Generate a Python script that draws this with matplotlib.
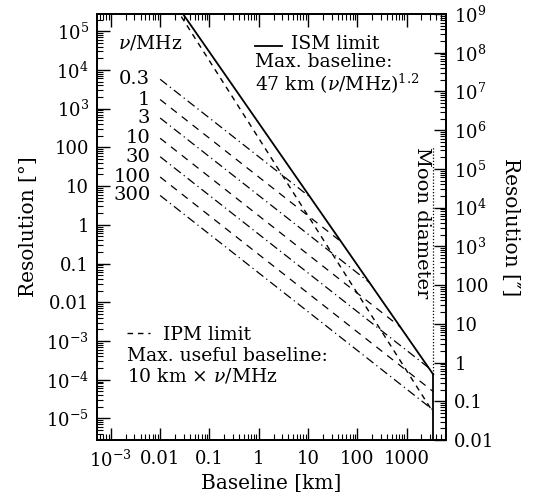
import numpy as np
import matplotlib
matplotlib.use('Agg')
import matplotlib.pyplot as plt
from matplotlib.ticker import FixedLocator, FixedFormatter, LogLocator, NullFormatter

plt.rcParams['font.family'] = 'DejaVu Serif'
plt.rcParams['mathtext.fontset'] = 'dejavuserif'

# observing frequencies [MHz] and physical limits
freqs = [0.3, 1, 3, 10, 30, 100, 300]
freq_labels = ['0.3', '1', '3', '10', '30', '100', '300']
b_min = 0.01            # shortest baseline drawn [km]
moon_diameter = 3474.0  # [km]
ism_coeff = 47.0        # ISM max. baseline: 47 km (nu/MHz)^1.2
ism_index = 1.2
ipm_coeff = 10.0        # IPM max. useful baseline: 10 km x nu/MHz
c_km = 299792.458e-6    # speed of light [km MHz]

x_ticks = [1e-3, 1e-2, 1e-1, 1, 10, 100, 1000]
x_ticklabels = [r'$10^{-3}$', '0.01', '0.1', '1', '10', '100', '1000']
y_ticks = [1e5, 1e4, 1e3, 100, 10, 1, 0.1, 0.01, 1e-3, 1e-4, 1e-5]
y_ticklabels = [r'$10^{5}$', r'$10^{4}$', r'$10^{3}$', '100', '10', '1', '0.1', '0.01',
                r'$10^{-3}$', r'$10^{-4}$', r'$10^{-5}$']
y2_ticks = [1e9, 1e8, 1e7, 1e6, 1e5, 1e4, 1e3, 100, 10, 1, 0.1, 0.01]
y2_ticklabels = [r'$10^{9}$', r'$10^{8}$', r'$10^{7}$', r'$10^{6}$', r'$10^{5}$', r'$10^{4}$',
                 r'$10^{3}$', '100', '10', '1', '0.1', '0.01']


def resolution_deg(nu, b):
    return np.degrees(c_km / nu / b)


fig = plt.figure(figsize=(5.39, 4.96), dpi=100)
ax = fig.add_axes([0.1805, 0.1129, 0.647, 0.8589])
ax.set_xscale('log')
ax.set_yscale('log')
ax.set_xlim(10**-3.275, 10**3.80)
ax.set_ylim(1e-2 / 3600, 1e9 / 3600)

# lines of constant frequency, up to the ISM limit or the Moon
for i, nu in enumerate(freqs):
    b_end = min(ism_coeff * nu**ism_index, moon_diameter)
    b = np.array([b_min, b_end])
    ls = (0, (7, 3, 1, 3)) if i % 2 == 0 else (0, (6, 5))
    ax.plot(b, resolution_deg(nu, b), color='k', lw=0.9, ls=ls)
    ax.text(b_min / 10**0.2, resolution_deg(nu, b_min), freq_labels[i],
            ha='right', va='center', fontsize=14)

# ISM limit
b = np.logspace(-3, np.log10(moon_diameter), 200)
nu_ism = (b / ism_coeff)**(1 / ism_index)
ism_res = resolution_deg(nu_ism, b)
ax.plot(b, ism_res, color='k', lw=1.3)

# IPM limit
nu_ipm = b / ipm_coeff
ax.plot(b, resolution_deg(nu_ipm, b), color='k', lw=1.0, ls=(0, (4, 3.5)))

# Moon diameter
ax.plot([moon_diameter, moon_diameter], [1e-8, ism_res[-1]], color='k', lw=1.3)
ax.plot([moon_diameter, moon_diameter], [ism_res[-1], 100], color='k', lw=0.9, ls=(0, (1, 1.5)))
ax.text(2100, 100, 'Moon diameter', rotation=270, ha='center', va='top', fontsize=14)

# annotations
kw = dict(transform=ax.transAxes, ha='left', fontsize=13.5)
ax.text(0.059, 0.932, r'$\nu$/MHz', va='center', **kw)
ax.plot([0.452, 0.530], [0.926, 0.926], transform=ax.transAxes, color='k', lw=1.3)
ax.text(0.452, 0.820, '      ISM limit\nMax. baseline:\n' + r'47 km ($\nu$/MHz)$^{1.2}$',
        va='baseline', linespacing=1.02, **kw)

ax.plot([0.085, 0.151], [0.251, 0.251], transform=ax.transAxes, color='k', lw=1.0, ls=(0, (4, 3.5)))
ax.text(0.188, 0.235, 'IPM limit', va='baseline', **kw)
ax.text(0.085, 0.137, 'Max. useful baseline:\n' + r'10 km $\times$ $\nu$/MHz',
        va='baseline', linespacing=1.08, **kw)

# axes and ticks
ax.xaxis.set_major_locator(FixedLocator(x_ticks))
ax.xaxis.set_major_formatter(FixedFormatter(x_ticklabels))
ax.xaxis.set_minor_locator(LogLocator(base=10, subs=np.arange(2, 10), numticks=100))
ax.xaxis.set_minor_formatter(NullFormatter())
ax.yaxis.set_major_locator(FixedLocator(y_ticks))
ax.yaxis.set_major_formatter(FixedFormatter(y_ticklabels))
ax.yaxis.set_minor_locator(LogLocator(base=10, subs=np.arange(2, 10), numticks=100))
ax.yaxis.set_minor_formatter(NullFormatter())
ax.tick_params(axis='x', which='both', direction='in', top=True, labelsize=13, pad=7)
ax.tick_params(axis='y', which='both', direction='in', right=False, labelsize=13, pad=6)
ax.tick_params(which='major', length=9, width=1)
ax.tick_params(which='minor', length=4.5, width=0.8)
ax.set_xlabel('Baseline [km]', fontsize=14.5, labelpad=2)
ax.set_ylabel('Resolution [°]', fontsize=14.5, labelpad=6)

ax2 = ax.twinx()
ax2.set_yscale('log')
ax2.set_ylim(1e-2, 1e9)
ax2.yaxis.set_major_locator(FixedLocator(y2_ticks))
ax2.yaxis.set_major_formatter(FixedFormatter(y2_ticklabels))
ax2.yaxis.set_minor_locator(LogLocator(base=10, subs=np.arange(2, 10), numticks=100))
ax2.yaxis.set_minor_formatter(NullFormatter())
ax2.tick_params(which='both', direction='in', labelsize=13, pad=6)
ax2.tick_params(which='major', length=9, width=1)
ax2.tick_params(which='minor', length=4.5, width=0.8)
ax2.set_ylabel('Resolution [″]', fontsize=14.5, rotation=270, labelpad=18)

for a in (ax, ax2):
    for s in a.spines.values():
        s.set_linewidth(1.3)

fig.savefig('out.png', dpi=100)
